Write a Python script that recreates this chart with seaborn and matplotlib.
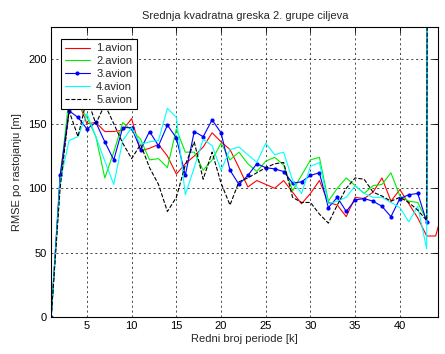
import numpy as np
import pandas as pd
import matplotlib
matplotlib.use("Agg")
import matplotlib.pyplot as plt
import seaborn as sns

# ---- data ----
k_red = list(range(1, 46))
k_other = list(range(1, 45))

red = [0, 105, 160, 168, 150, 151, 144, 144, 145, 154, 129, 131, 134, 125, 111, 119, 125, 132,
       143, 136, 130, 116, 101, 106, 103, 100, 106, 97, 88, 96, 106, 89, 87, 78, 93, 92, 97,
       108, 90, 99, 88, 77, 63, 63, 88]
green = [0, 107, 170, 165, 155, 140, 108, 128, 151, 145, 138, 122, 123, 116, 146, 128, 128, 114,
         122, 135, 122, 128, 119, 113, 121, 124, 118, 98, 110, 122, 124, 90, 100, 108, 102, 96,
         102, 103, 112, 94, 90, 89, 75, 3000]
blue = [0, 110, 160, 155, 146, 151, 136, 122, 147, 147, 130, 144, 133, 149, 139, 110, 144, 140,
        153, 143, 114, 103, 110, 119, 116, 115, 113, 104, 105, 110, 112, 85, 93, 82, 91, 92, 90,
        86, 78, 92, 95, 96, 74, 3000]
cyan = [0, 105, 137, 140, 158, 140, 121, 103, 137, 147, 134, 136, 137, 162, 155, 95, 116, 138,
        133, 114, 130, 132, 126, 120, 135, 126, 128, 106, 96, 117, 120, 88, 90, 93, 102, 96, 93,
        93, 89, 85, 74, 86, 53, 3000]
black = [0, 100, 160, 140, 170, 150, 165, 150, 135, 123, 134, 116, 103, 82, 93, 118, 136, 107,
         128, 104, 87, 105, 108, 112, 116, 119, 120, 93, 89, 89, 80, 73, 87, 100, 108, 107, 97,
         94, 90, 93, 89, 83, 75, 3000]

labels = ["1.avion", "2.avion", "3.avion", "4.avion", "5.avion"]
x_ticks = [5, 10, 15, 20, 25, 30, 35, 40]
y_ticks = [0, 50, 100, 150, 200]

title = "Srednja kvadratna greska 2. grupe ciljeva"
xlab = "Redni broj periode [k]"
ylab = "RMSE po rastojanju [m]"

# ---- styling ----
sns.set_theme(style="white")
plt.rcParams["font.family"] = ["Liberation Sans", "DejaVu Sans"]

fig = plt.figure(figsize=(4.45, 3.54), dpi=100)
fig.patch.set_facecolor("white")
ax = fig.add_axes([0.115, 0.1037, 0.870, 0.820])
ax.set_facecolor("white")

series = [
    (k_red, red, "#ff0000", "-", None),
    (k_other, green, "#00ee00", "-", None),
    (k_other, blue, "#0000ff", "-", "o"),
    (k_other, cyan, "#00ffff", "-", None),
    (k_other, black, "#000000", "--", None),
]
for (kx, vals, col, ls, mk), lab in zip(series, labels):
    kw = dict(x=kx, y=vals, ax=ax, color=col, linewidth=0.8, label=lab, sort=False)
    if mk:
        kw.update(marker=mk, markersize=3, markeredgewidth=0)
    line_ax = sns.lineplot(**kw)
    line_ax.get_lines()[-1].set_linestyle(ls)

ax.set_xlim(1, 44.3)
ax.set_ylim(0, 225)
ax.set_xticks(x_ticks)
ax.set_yticks(y_ticks)
ax.tick_params(direction="in", length=4, width=0.6, top=True, right=True,
               labelsize=8, pad=3, colors="black")
for s in ax.spines.values():
    s.set_color("black")
    s.set_linewidth(0.8)
ax.grid(True, color="black", linestyle=(0, (3, 4)), linewidth=0.5)

ax.set_title(title, fontsize=8, pad=6)
ax.set_xlabel(xlab, fontsize=8, labelpad=2)
ax.set_ylabel(ylab, fontsize=8, labelpad=5)

leg = ax.legend(loc="upper left", bbox_to_anchor=(0.0245, 0.9587), borderaxespad=0,
                fancybox=False, framealpha=1, edgecolor="black", fontsize=8,
                handlelength=2.2, handletextpad=0.6, labelspacing=0.25,
                borderpad=0.4)
leg.get_frame().set_linewidth(0.8)

fig.savefig("out.png", dpi=100, facecolor=fig.get_facecolor())
